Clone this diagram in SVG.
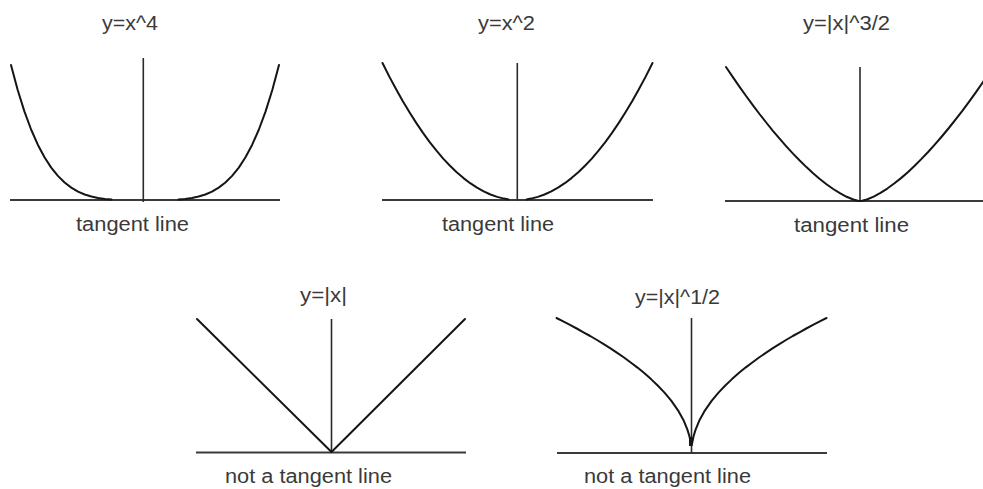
<svg xmlns="http://www.w3.org/2000/svg" xmlns:xlink="http://www.w3.org/1999/xlink" width="983" height="489" viewBox="0 0 983 489">
<style>
.bg{fill:#ffffff}
.axis{stroke:#2a2a2a;stroke-width:1.6;fill:none}
.base{stroke:#3a3a3a;stroke-width:1.8;fill:none}
.curve{stroke:#151515;stroke-width:2;fill:none;stroke-linejoin:round;stroke-linecap:round}
.lbl{font-family:"Liberation Sans",Arial,sans-serif;font-size:20px;fill:#3a3a3a}
</style>
<defs>
<polyline id="c4" class="curve" points="-134,-135 -127.3,-110 -120.6,-88.6 -113.9,-70.5 -107.2,-55.3 -100.5,-42.7 -93.8,-32.4 -87.1,-24.1 -80.4,-17.5 -73.7,-12.4 -67,-8.4 -60.3,-5.5 -53.6,-3.5 -46.9,-2 -40.2,-1.1 -33.5,-0.4"/>
<polyline id="c2" class="curve" points="-135,-137 -128.3,-123.6 -121.5,-111 -114.8,-99 -108,-87.7 -101.3,-77.1 -94.5,-67.1 -87.8,-57.9 -81,-49.3 -74.3,-41.4 -67.5,-34.3 -60.8,-27.7 -54,-21.9 -47.3,-16.8 -40.5,-12.3 -33.8,-8.6 -27,-5.5 -20.3,-3.1 -13.5,-1.4 -9,-0.6"/>
<polyline id="c15" class="curve" points="-134,-134 -127.3,-124.1 -120.6,-114.4 -113.9,-105 -107.2,-95.9 -100.5,-87 -93.8,-78.5 -87.1,-70.2 -80.4,-62.3 -73.7,-54.7 -67,-47.4 -60.3,-40.5 -53.6,-33.9 -46.9,-27.7 -40.2,-22 -33.5,-16.8 -26.8,-12 -20.1,-7.8 -13.4,-4.2 -6.7,-1.5 -2,-0.3 0,0"/>
<polyline id="c05" class="curve" points="-135,-135 -128.3,-131.6 -121.5,-128.1 -114.8,-124.5 -108,-120.7 -101.3,-117 -94.5,-113 -87.8,-108.9 -81,-104.6 -74.3,-100.1 -67.5,-95.5 -60.8,-90.5 -54,-85.4 -47.3,-79.9 -40.5,-73.9 -33.8,-67.5 -27,-60.4 -20.3,-52.3 -13.5,-42.7 -8.1,-33.1 -4.1,-23.4 -2,-16.5 -0.7,-10 0,-8"/>
</defs>
<rect class="bg" x="0" y="0" width="983" height="489"/>

<g id="plot-x4">
<line class="base" x1="10" y1="200" x2="280" y2="200"/>
<line class="axis" x1="143.3" y1="58" x2="143.3" y2="202"/>
<use xlink:href="#c4" transform="translate(145,200)"/>
<use xlink:href="#c4" transform="translate(145,200) scale(-1,1)"/>
<text class="lbl" x="102" y="30" textLength="56" lengthAdjust="spacingAndGlyphs">y=x^4</text>
<text class="lbl" x="76" y="231" textLength="113" lengthAdjust="spacingAndGlyphs">tangent line</text>
</g>

<g id="plot-x2">
<line class="base" x1="382" y1="200" x2="653" y2="200"/>
<line class="axis" x1="517.3" y1="63" x2="517.3" y2="201"/>
<use xlink:href="#c2" transform="translate(517.5,200)"/>
<use xlink:href="#c2" transform="translate(517.5,200) scale(-1,1)"/>
<text class="lbl" x="478" y="30" textLength="57" lengthAdjust="spacingAndGlyphs">y=x^2</text>
<text class="lbl" x="442" y="231" textLength="112" lengthAdjust="spacingAndGlyphs">tangent line</text>
</g>

<g id="plot-x15">
<line class="base" x1="725" y1="201" x2="983" y2="201"/>
<line class="axis" x1="860" y1="67" x2="860" y2="201"/>
<use xlink:href="#c15" transform="translate(860,201)"/>
<use xlink:href="#c15" transform="translate(860,201) scale(-1.02,1.04)"/>
<text class="lbl" x="803" y="30" textLength="87" lengthAdjust="spacingAndGlyphs">y=|x|^3/2</text>
<text class="lbl" x="794" y="232" textLength="115" lengthAdjust="spacingAndGlyphs">tangent line</text>
</g>

<g id="plot-abs">
<line class="base" x1="196" y1="452.5" x2="466" y2="452.5"/>
<line class="axis" x1="331.5" y1="319" x2="331.5" y2="452.5"/>
<polyline class="curve" points="197,319 331.5,452 465,319"/>
<text class="lbl" x="300" y="302" textLength="47" lengthAdjust="spacingAndGlyphs">y=|x|</text>
<text class="lbl" x="225" y="483" textLength="167" lengthAdjust="spacingAndGlyphs">not a tangent line</text>
</g>

<g id="plot-sqrt">
<line class="base" x1="557" y1="453" x2="827" y2="453"/>
<line class="axis" x1="691.5" y1="318" x2="691.5" y2="453"/>
<use xlink:href="#c05" transform="translate(691.5,453)"/>
<use xlink:href="#c05" transform="translate(691.5,453) scale(-1,1)"/>
<line x1="690.8" y1="437" x2="690.8" y2="446" stroke="#151515" stroke-width="3.5"/>
<text class="lbl" x="635" y="304" textLength="85" lengthAdjust="spacingAndGlyphs">y=|x|^1/2</text>
<text class="lbl" x="584" y="483" textLength="167" lengthAdjust="spacingAndGlyphs">not a tangent line</text>
</g>
</svg>
